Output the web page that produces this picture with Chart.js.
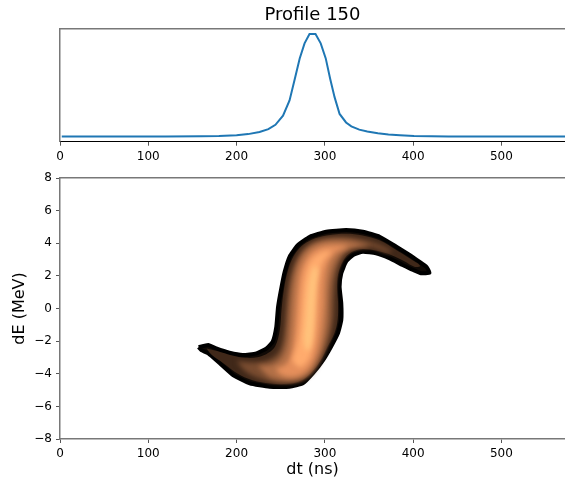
<!DOCTYPE html>
<html><head><meta charset="utf-8">
<script src="https://cdn.jsdelivr.net/npm/chart.js@4/dist/chart.umd.min.js"></script>
<style>
html,body{margin:0;padding:0;background:#fff;width:565px;height:482px;overflow:hidden}
canvas{position:absolute;left:0}
#c1{top:0}
#c2{top:165px}
</style></head><body>
<canvas id="c1" width="565" height="170"></canvas>
<canvas id="c2" width="565" height="317"></canvas>
<script>
// ---- data ----
const profileTitle = 'Profile 150';
const profileDt  = [2, 40, 80, 120, 160, 180, 200, 213, 226, 236, 244, 252.6, 260, 266, 271.5, 277, 282.6, 289.4, 295.3, 301, 306, 311, 316.7, 324, 330, 339, 348, 360, 372, 385, 401, 440, 480, 520, 572];
const profileVal = [0, 0, 0, 0, 0.002, 0.006, 0.014, 0.024, 0.045, 0.072, 0.115, 0.204, 0.352, 0.565, 0.763, 0.91, 1.0, 1.0, 0.91, 0.763, 0.565, 0.385, 0.221, 0.138, 0.10, 0.068, 0.049, 0.032, 0.02, 0.012, 0.005, 0.001, 0, 0, 0];
const xTicks = [0, 100, 200, 300, 400, 500];
const yTicks = [-8, -6, -4, -2, 0, 2, 4, 6, 8];
const xLabel = 'dt (ns)';
const yLabel = 'dE (MeV)';
// contour level values (copper colormap fraction), outermost first
const contourLevels = [0.05, 0.2, 0.38, 0.56, 0.72, 0.86, 0.98];
// contour polygons [dt, dE]
const contour0 = [[157,-2.37],[168,-2.24],[177,-2.45],[192,-2.71],[207,-2.85],[222.5,-2.75],[234,-2.44],[241,-2.03],[245,-1.12],[247,0.11],[251,1.34],[254.5,2.25],[260,3.17],[269.6,3.89],[283,4.40],[301.7,4.71],[324,4.81],[343,4.71],[362,4.40],[381,3.79],[396,3.28],[407,2.87],[415,2.56],[418.5,2.19],[409,2.16],[400,2.36],[388,2.67],[373,3.08],[358,3.38],[343,3.48],[332,3.28],[324,2.87],[318.6,2.16],[316.7,1.34],[318.6,0.32],[318.6,-0.71],[314.8,-1.52],[307,-2.34],[298,-3.16],[286.5,-3.97],[275,-4.59],[260,-4.80],[237.5,-4.80],[215,-4.59],[196,-4.08],[181,-3.36],[168,-2.75],[160,-2.55]];
const contour1 = [[166,-2.45],[178,-2.6],[195,-2.88],[210,-3.02],[225,-2.97],[236,-2.72],[244,-2.28],[249,-1.3],[251,0],[254,1.3],[258,2.3],[264,3.15],[273,3.8],[285,4.22],[302,4.48],[324,4.58],[343,4.48],[362,4.18],[380,3.62],[396,3.08],[408,2.62],[402,2.55],[390,2.9],[375,3.28],[358,3.55],[343,3.65],[330,3.45],[321,2.95],[315,2.1],[314,1.2],[315,0.3],[314.5,-0.7],[311,-1.5],[303,-2.35],[295,-3.2],[284,-3.95],[272,-4.45],[258,-4.62],[238,-4.6],[218,-4.4],[200,-3.95],[185,-3.35],[172,-2.85]];
const contour2 = [[200,-3.2],[215,-3.3],[230,-3.25],[242,-2.98],[250,-2.4],[254,-1.3],[256,0],[259,1.4],[264,2.5],[271,3.3],[283,3.95],[300,4.3],[322,4.4],[342,4.25],[360,3.95],[376,3.5],[370,3.45],[356,3.72],[342,3.8],[329,3.6],[319,3.0],[313,2.0],[311,0.8],[310,-0.6],[306,-1.7],[299,-2.75],[289,-3.7],[276,-4.35],[260,-4.55],[240,-4.5],[224,-4.25],[210,-3.85]];
const contour3 = [[224,-3.5],[238,-3.45],[249,-3.1],[256,-2.3],[259,-1.0],[261,0.5],[264,1.8],[270,2.9],[281,3.7],[297,4.1],[317,4.2],[336,4.05],[350,3.8],[336,3.75],[322,3.5],[313,2.85],[307,1.8],[305,0.5],[304,-0.8],[300,-2.0],[293,-3.1],[283,-3.95],[269,-4.35],[252,-4.4],[236,-4.15]];
const contour4 = [[244,-3.7],[256,-3.4],[262,-2.7],[265,-1.6],[267,-0.2],[269,1.2],[273,2.4],[282,3.3],[296,3.8],[314,3.9],[326,3.8],[313,3.45],[304,2.75],[300,1.6],[299,0.3],[297,-1.0],[293,-2.3],[286,-3.35],[275,-4.0],[261,-4.2],[250,-4.05]];
const contour5 = [[263,-3.2],[269,-2.1],[272,-0.8],[274,0.7],[277,2.0],[284,2.95],[296,3.45],[307,3.5],[299,2.95],[293,2.0],[291,0.8],[290,-0.5],[288,-1.8],[283,-3.0],[272,-3.6]];
const contour6 = [[276,-1.9],[278,-0.6],[280,0.8],[283,1.9],[288,2.6],[292,2.4],[290,1.3],[288.5,0],[287,-1.3],[284,-2.3],[279,-2.6]];
const contours = [contour0, contour1, contour2, contour3, contour4, contour5, contour6];

// ---- styling helpers ----
Chart.defaults.font.family = "'DejaVu Sans', sans-serif";
Chart.defaults.color = '#000';
const SPINE = '#787878';
function copper(t){
  const r = Math.min(1, 1.25*t)*255, g = 0.7812*t*255, b = 0.4975*t*255;
  return `rgb(${Math.round(r)},${Math.round(g)},${Math.round(b)})`;
}
const XMAX = 572;
const keepTicks = (vals) => (s) => { s.ticks = vals.map(v => ({value: v})); };
const minus = v => String(v).replace('-', '\u2212');

// ---- top: profile ----
new Chart(document.getElementById('c1'), {
  type: 'scatter',
  data: { datasets: [{
    data: profileDt.map((x, i) => ({x, y: profileVal[i]})),
    showLine: true, borderColor: '#1f77b4', borderWidth: 2, pointRadius: 0, fill: false, tension: 0
  }]},
  options: {
    responsive: false, animation: false, devicePixelRatio: 1,
    layout: { padding: 0 },
    plugins: {
      legend: { display: false }, tooltip: { enabled: false },
      title: { display: true, fullSize: false, text: profileTitle, color: '#000', font: { size: 18, weight: 'normal' }, padding: { top: 4.2, bottom: 3.2 } }
    },
    scales: {
      x: { type: 'linear', position: 'bottom', min: 0, max: XMAX,
        ticks: { color: '#000', font: { size: 12 }, padding: 4, maxRotation: 0, autoSkip: false },
        grid: { display: true, drawOnChartArea: false, drawTicks: true, tickLength: 4, color: '#555' },
        border: { display: true, color: '#000', width: 1 },
        afterBuildTicks: keepTicks(xTicks), afterFit: s => { s.height = 28.3; } },
      xTop: { type: 'linear', position: 'top', min: 0, max: XMAX,
        ticks: { display: false }, grid: { display: false },
        border: { display: true, color: SPINE, width: 1.5 }, afterFit: s => { s.height = 0; } },
      y: { type: 'linear', min: -0.05, max: 1.05, ticks: { display: false }, grid: { display: false },
        border: { display: true, color: SPINE, width: 1.5 }, afterFit: s => { s.width = 60; } }
    }
  }
});

// ---- bottom: phase space contour ----
const n = contours.length;
const contourSets = contours.map((poly, i) => ({
  data: poly.concat([poly[0]]).map(p => ({x: p[0], y: p[1]})),
  showLine: true, pointRadius: 0,
  fill: 'shape',
  backgroundColor: copper(contourLevels[i]),
  borderColor: i === 0 ? '#000' : copper(contourLevels[i]),
  borderWidth: i === 0 ? 4 : 0,
  borderJoinStyle: 'round',
  tension: i === 0 ? 0.15 : 0.35,
  order: n - i
}));

// soften the colour steps between the inner contour levels (like a dense contourf)
const softLevels = {
  id: 'softLevels',
  afterDatasetDraw(chart, args) {
    if (args.index === 1) chart.ctx.filter = 'blur(2.5px)';
  },
  afterDatasetsDraw(chart) { chart.ctx.filter = 'none'; }
};

new Chart(document.getElementById('c2'), {
  type: 'scatter',
  data: { datasets: contourSets },
  plugins: [softLevels],
  options: {
    responsive: false, animation: false, devicePixelRatio: 1,
    layout: { padding: { top: 13, left: 0, right: 0, bottom: 0 } },
    plugins: { legend: { display: false }, tooltip: { enabled: false } },
    scales: {
      x: { type: 'linear', position: 'bottom', min: 0, max: XMAX,
        title: { display: true, text: xLabel, color: '#000', font: { size: 16 }, padding: { top: 0, bottom: 2.4 } },
        ticks: { color: '#000', font: { size: 12 }, padding: 4, maxRotation: 0, autoSkip: false },
        grid: { display: true, drawOnChartArea: false, drawTicks: true, tickLength: 4, color: '#555' },
        border: { display: true, color: SPINE, width: 1.5 },
        afterBuildTicks: keepTicks(xTicks), afterFit: s => { s.height = 43; } },
      xTop: { type: 'linear', position: 'top', min: 0, max: XMAX,
        ticks: { display: false }, grid: { display: false },
        border: { display: true, color: SPINE, width: 1.5 }, afterFit: s => { s.height = 0; } },
      y: { type: 'linear', min: -8, max: 8,
        title: { display: true, text: yLabel, color: '#000', font: { size: 16 }, padding: { top: 10.4, bottom: 0 } },
        ticks: { color: '#000', font: { size: 12 }, padding: 4, callback: minus, autoSkip: false },
        grid: { display: true, drawOnChartArea: false, drawTicks: true, tickLength: 4, color: '#555' },
        border: { display: true, color: SPINE, width: 1.5 },
        afterBuildTicks: keepTicks(yTicks), afterFit: s => { s.width = 60; } }
    }
  }
});
</script>
</body></html>
